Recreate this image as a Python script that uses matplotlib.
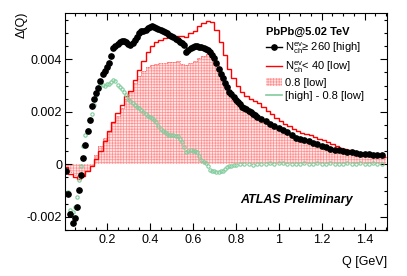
import numpy as np
import matplotlib
matplotlib.use("Agg")
import matplotlib.pyplot as plt
from matplotlib.lines import Line2D
from matplotlib.patches import Patch
from matplotlib.ticker import MultipleLocator, FuncFormatter

plt.rcParams["font.family"] = ["Liberation Sans", "DejaVu Sans"]
plt.rcParams["mathtext.fontset"] = "custom"
plt.rcParams["mathtext.rm"] = "Liberation Sans"
plt.rcParams["hatch.linewidth"] = 0.5

# low multiplicity histogram, bins of 0.02 GeV from 0 to 1.5
low = [-0.00012, -0.00035, -0.00048, -0.00055, -0.00043, -0.00026, -0.00005, 0.00022,
       0.00050, 0.00088, 0.00128, 0.00160, 0.00196, 0.00225, 0.00260, 0.00280,
       0.00320, 0.00360, 0.00395, 0.00428, 0.00452, 0.00466, 0.00472, 0.00482,
       0.00485, 0.00490, 0.00490, 0.00488, 0.00486, 0.00498, 0.00508, 0.00525,
       0.00537, 0.00545, 0.00540, 0.00512, 0.00465, 0.00415, 0.00362, 0.00328,
       0.00298, 0.00275, 0.00260, 0.00250, 0.00242, 0.00232, 0.00218, 0.00204,
       0.00190, 0.00178, 0.00166, 0.00154, 0.00145, 0.00136, 0.00128, 0.00121,
       0.00115, 0.00110, 0.00104, 0.00098, 0.00092, 0.00084, 0.00077, 0.00070,
       0.00064, 0.00058, 0.00054, 0.00051, 0.00048, 0.00045, 0.00041, 0.00038,
       0.00035, 0.00031, 0.00028]

# 0.8 [low], same binning
low08 = [-0.00010, -0.00030, -0.00042, -0.00048, -0.00042, -0.00026, -0.00008, 0.00035,
         0.00068, 0.00100, 0.00123, 0.00158, 0.00185, 0.00215, 0.00250, 0.00280,
         0.00310, 0.00335, 0.00355, 0.00370, 0.00378, 0.00383, 0.00385, 0.00387,
         0.00388, 0.00390, 0.00395, 0.00380, 0.00378, 0.00386, 0.00392, 0.00403,
         0.00411, 0.00420, 0.00410, 0.00380, 0.00335, 0.00298, 0.00268, 0.00245,
         0.00228, 0.00215, 0.00206, 0.00198, 0.00185, 0.00173, 0.00165, 0.00156,
         0.00147, 0.00139, 0.00131, 0.00122, 0.00112, 0.00102, 0.00095, 0.00090,
         0.00086, 0.00081, 0.00076, 0.00071, 0.00065, 0.00059, 0.00055, 0.00051,
         0.00048, 0.00045, 0.00043, 0.00040, 0.00037, 0.00035, 0.00034, 0.00034,
         0.00033, 0.00032, 0.00030]

# high multiplicity points: 0.01 steps up to 0.90, then 0.02 steps
high_a = [-0.00027, -0.00114, -0.00190, -0.00222, -0.00203, -0.00163, -0.00099, -0.00039,
          0.00024, 0.00075, 0.00126, 0.00170, 0.00222, 0.00248, 0.00272, 0.00292,
          0.00317, 0.00345, 0.00355, 0.00370, 0.00386, 0.00412, 0.00442, 0.00452,
          0.00458, 0.00465, 0.00470, 0.00470, 0.00464, 0.00458, 0.00456, 0.00462,
          0.00472, 0.00485, 0.00498, 0.00506, 0.00508, 0.00512, 0.00518, 0.00522,
          0.00526, 0.00522, 0.00518, 0.00514, 0.00510, 0.00508, 0.00503, 0.00500,
          0.00493, 0.00489, 0.00483, 0.00478, 0.00472, 0.00467, 0.00462, 0.00456,
          0.00428, 0.00436, 0.00442, 0.00446, 0.00450, 0.00449, 0.00448, 0.00446,
          0.00443, 0.00440, 0.00434, 0.00426, 0.00416, 0.00404, 0.00385, 0.00363,
          0.00342, 0.00328, 0.00308, 0.00295, 0.00277, 0.00266, 0.00257, 0.00246,
          0.00237, 0.00228, 0.00220, 0.00214, 0.00210, 0.00204, 0.00199, 0.00193,
          0.00186, 0.00180]
high_b = [0.00172, 0.00164, 0.00154, 0.00146, 0.00139, 0.00130, 0.00122, 0.00110,
          0.00101, 0.00096, 0.00091, 0.00087, 0.00082, 0.00077, 0.00071, 0.00066,
          0.00060, 0.00056, 0.00053, 0.00050, 0.00048, 0.00046, 0.00043, 0.00039,
          0.00038, 0.00038, 0.00037, 0.00036, 0.00034]

# [high] - 0.8 [low]: 0.01 steps up to 0.80, then 0.02 steps
diff_a = [-0.00020, -0.00105, -0.00172, -0.00180, -0.00163, -0.00124, -0.00058, -0.00005,
          0.00068, 0.00110, 0.00130, 0.00165, 0.00193, 0.00225, 0.00262, 0.00290,
          0.00305, 0.00302, 0.00298, 0.00305, 0.00305, 0.00315, 0.00320, 0.00318,
          0.00303, 0.00296, 0.00288, 0.00275, 0.00263, 0.00250, 0.00240, 0.00232,
          0.00226, 0.00218, 0.00214, 0.00208, 0.00200, 0.00190, 0.00185, 0.00182,
          0.00178, 0.00170, 0.00160, 0.00145, 0.00136, 0.00128, 0.00122, 0.00117,
          0.00113, 0.00111, 0.00110, 0.00108, 0.00106, 0.00098, 0.00085, 0.00065,
          0.00047, 0.00052, 0.00056, 0.00052, 0.00050, 0.00046, 0.00030, 0.00018,
          0.00010, 0.00005, -0.00008, -0.00020, -0.00024, -0.00027, -0.00029, -0.00028,
          -0.00027, -0.00024, -0.00018, -0.00012, -0.00008, -0.00005, -0.00004, -0.00003]
diff_b = [0.00000, 0.00003, 0.00001, -0.00003, 0.00002, 0.00003, 0.00002, 0.00004,
          0.00003, 0.00005, 0.00004, 0.00002, 0.00003, 0.00001, 0.00003, 0.00004,
          0.00002, 0.00003, 0.00005, 0.00003, 0.00002, 0.00004, 0.00003, 0.00001,
          0.00003, 0.00004, 0.00002, 0.00003, 0.00004, 0.00002, 0.00003, 0.00005,
          0.00003, 0.00002]

edges = np.round(np.linspace(0, 1.5, len(low) + 1), 3)
q_high = np.concatenate([0.01 * np.arange(1, len(high_a) + 1),
                         0.92 + 0.02 * np.arange(len(high_b))])
q_diff = np.concatenate([0.01 * np.arange(1, len(diff_a) + 1),
                         0.82 + 0.02 * np.arange(len(diff_b))])
high = np.array(high_a + high_b)
diff = np.array(diff_a + diff_b)

green = "#80cc9c"
pink_face = "#ffe6e6"
pink_hatch = "#ff9090"

fig = plt.figure(figsize=(4.07, 2.76), dpi=100)
ax = fig.add_axes([65 / 407, 46 / 276, 321.7 / 407, 217 / 276])

# 0.8 [low] hatched area with dotted outline
ax.fill_between(edges, np.append(low08, low08[-1]), 0, step="post",
                facecolor=pink_face, edgecolor=pink_hatch, hatch="++++++", linewidth=0)
ax.stairs(low08, edges, color="#ff5a5a", lw=0.6, ls=(0, (1, 1)), baseline=None)
ax.stairs(low, edges, color="red", lw=1.0, baseline=None)
ax.plot(q_diff, diff, "o", mfc="none", mec=green, ms=2.4, mew=0.8)
ax.plot(q_high, high, "o", color="black", ms=3.8)

ax.set_xlim(0.005, 1.503)
ax.set_ylim(-0.0025, 0.00576)
ax.xaxis.set_major_locator(MultipleLocator(0.2))
ax.xaxis.set_minor_locator(MultipleLocator(0.05))
ax.yaxis.set_major_locator(MultipleLocator(0.002))
ax.yaxis.set_minor_locator(MultipleLocator(0.0005))
fmt = FuncFormatter(lambda v, p: "0" if abs(v) < 1e-12 else f"{v:g}")
ax.xaxis.set_major_formatter(fmt)
ax.yaxis.set_major_formatter(fmt)
ax.tick_params(which="both", direction="in", top=True, right=True, labelsize=9, width=0.8)
ax.tick_params(which="major", length=5, pad=3)
ax.tick_params(which="minor", length=2.5)
ax.tick_params(axis="y", pad=2)
for s in ax.spines.values():
    s.set_linewidth(0.8)

fig.text(22 / 407, 1 - 12 / 276, "Δ(Q)", rotation=90, ha="center", va="top", fontsize=9)
fig.text(386.7 / 407, 1 - 261.7 / 276, "Q [GeV]", ha="right", va="center", fontsize=9)
ax.text(0.821, -0.00137, "ATLAS Preliminary", fontsize=9, weight="bold", style="italic",
        va="center")

handles = [Line2D([], [], color="black", marker="o", ms=3.8, lw=1),
           Line2D([], [], color="red", lw=1),
           Patch(facecolor=pink_face, edgecolor=pink_hatch, hatch="++++++", lw=0),
           Line2D([], [], color=green, lw=1.2)]
labels = [r"N$_{\rm ch}^{\rm ev}$≥ 260 [high]", r"N$_{\rm ch}^{\rm ev}$< 40 [low]",
          "0.8 [low]", "[high] - 0.8 [low]"]
ax.legend(handles, labels, title="PbPb@5.02 TeV", loc="upper left",
          bbox_to_anchor=(266 / 407, 1 - 27 / 276), bbox_transform=fig.transFigure,
          frameon=False, fontsize=8, title_fontproperties={"weight": "bold", "size": 8},
          handlelength=1.45, handletextpad=0.25, labelspacing=0.3, borderpad=0,
          borderaxespad=0, alignment="left")

fig.savefig("out.png", dpi=100)
